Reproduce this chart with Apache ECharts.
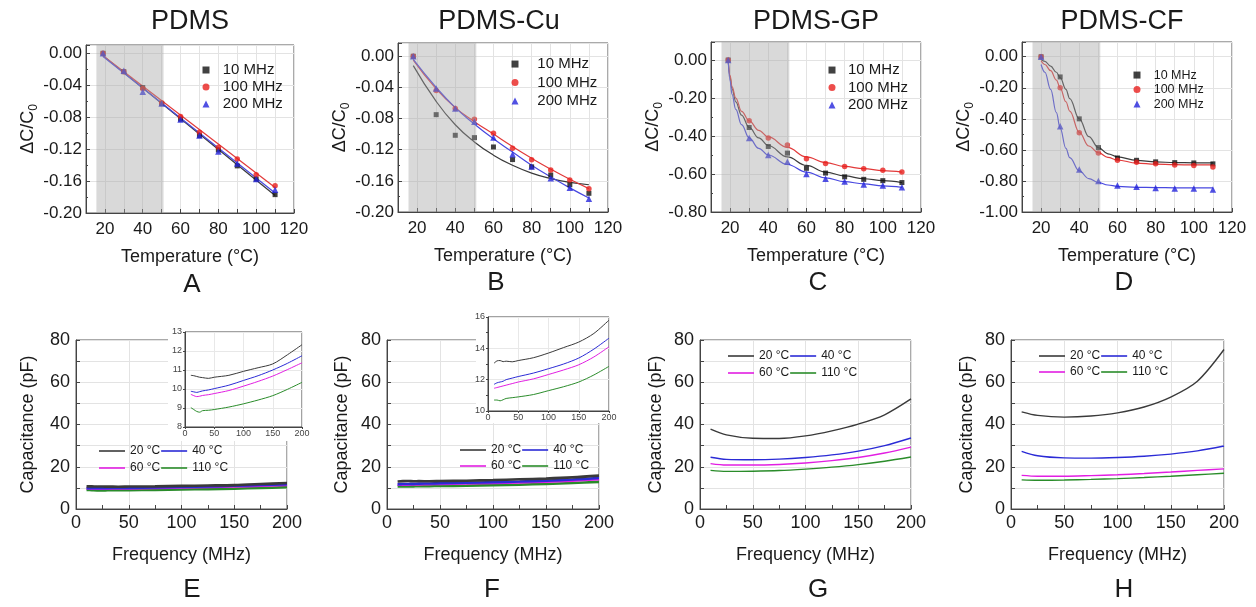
<!DOCTYPE html>
<html><head><meta charset="utf-8">
<script src="https://cdn.jsdelivr.net/npm/echarts@6/dist/echarts.min.js"></script>
<style>html,body{margin:0;padding:0;background:#fff}#c{width:1256px;height:607px}</style>
</head><body><div id="c"></div>
<script>
// ================= DATA =================
// Top row: relative capacitance change vs temperature
const tempA = [19,30,40,50,60,70,80,90,100,110];
const pdms10  = [0,-0.023,-0.043,-0.063,-0.0825,-0.103,-0.121,-0.141,-0.1575,-0.177];
const pdms100 = [0,-0.023,-0.044,-0.062,-0.079,-0.099,-0.1175,-0.1325,-0.152,-0.166];
const pdms200 = [0,-0.022,-0.048,-0.063,-0.083,-0.103,-0.123,-0.138,-0.1575,-0.171];
const fitXA   = [19,110];
const fitA10  = [-0.003,-0.178];
const fitA100 = [-0.003,-0.168];
const fitA200 = [-0.004,-0.175];

const tempB = [18,30,40,50,60,70,80,90,100,110];
const cu10  = [0,-0.075,-0.1015,-0.1045,-0.1165,-0.1327,-0.142,-0.1525,-0.165,-0.176];
const cu100 = [0,-0.044,-0.067,-0.081,-0.099,-0.118,-0.133,-0.146,-0.159,-0.170];
const cu200 = [0,-0.0415,-0.067,-0.084,-0.1045,-0.126,-0.1417,-0.1567,-0.169,-0.183];
const fitXB   = [18,30,40,50,60,70,80,90,100,110];
const fitB10  = [-0.012,-0.058,-0.088,-0.110,-0.127,-0.140,-0.150,-0.157,-0.162,-0.165];
const fitB100 = [-0.005,-0.042,-0.066,-0.084,-0.100,-0.116,-0.131,-0.145,-0.158,-0.170];
const fitB200 = [-0.004,-0.040,-0.066,-0.087,-0.106,-0.123,-0.140,-0.155,-0.169,-0.182];

const tempC = [19,30,40,50,60,70,80,90,100,110];
const gp10  = [0,-0.355,-0.455,-0.49,-0.57,-0.595,-0.615,-0.628,-0.635,-0.645];
const gp100 = [0,-0.32,-0.41,-0.447,-0.52,-0.545,-0.56,-0.572,-0.58,-0.59];
const gp200 = [0,-0.41,-0.50,-0.535,-0.60,-0.625,-0.64,-0.655,-0.66,-0.67];
const fitXC   = [19,20,21,23,26,30,35,40,50,60,70,80,90,100,110];
const fitC10  = [0,-0.09,-0.15,-0.22,-0.29,-0.355,-0.41,-0.45,-0.51,-0.555,-0.59,-0.61,-0.625,-0.635,-0.645];
const fitC100 = [0,-0.08,-0.14,-0.20,-0.27,-0.32,-0.37,-0.405,-0.46,-0.51,-0.54,-0.56,-0.572,-0.582,-0.59];
const fitC200 = [0,-0.11,-0.18,-0.26,-0.34,-0.41,-0.465,-0.50,-0.55,-0.59,-0.62,-0.64,-0.652,-0.662,-0.67];

const tempD = [20,30,40,50,60,70,80,90,100,110];
const cf10  = [0,-0.13,-0.40,-0.585,-0.652,-0.667,-0.677,-0.682,-0.684,-0.69];
const cf100 = [0,-0.20,-0.49,-0.62,-0.667,-0.68,-0.69,-0.697,-0.70,-0.71];
const cf200 = [0,-0.447,-0.727,-0.80,-0.83,-0.838,-0.845,-0.848,-0.848,-0.855];
const fitXD   = [20,22,25,28,30,33,35,40,45,50,55,60,70,80,90,100,110];
const fitD10  = [-0.018,-0.03,-0.06,-0.10,-0.135,-0.21,-0.27,-0.40,-0.515,-0.585,-0.625,-0.645,-0.668,-0.677,-0.682,-0.683,-0.684];
const fitD100 = [-0.026,-0.05,-0.09,-0.15,-0.20,-0.29,-0.35,-0.487,-0.575,-0.618,-0.648,-0.665,-0.685,-0.692,-0.695,-0.697,-0.697];
const fitD200 = [-0.05,-0.10,-0.21,-0.36,-0.46,-0.59,-0.65,-0.735,-0.785,-0.81,-0.826,-0.835,-0.841,-0.843,-0.844,-0.845,-0.845];

const shadeRange = [15.5, 51];
const mhzNames = ['10 MHz','100 MHz','200 MHz'];

// Bottom row: capacitance vs frequency
const freqEF = [10,15,20,25,30,40,50,75,100,125,150,175,200];
const c20E  = [10.72,10.70,10.66,10.62,10.60,10.56,10.62,10.72,10.93,11.12,11.32,11.80,12.33];
const c40E  = [9.88,9.85,9.82,9.86,9.90,9.95,10.02,10.20,10.45,10.70,11.00,11.35,11.75];
const c60E  = [9.72,9.65,9.60,9.62,9.66,9.70,9.76,9.92,10.15,10.40,10.68,11.02,11.38];
const c110E = [9.02,8.92,8.82,8.78,8.86,8.88,8.92,9.05,9.22,9.42,9.65,9.98,10.35];

const c20F  = [13.05,13.20,13.22,13.15,13.18,13.14,13.22,13.40,13.70,14.05,14.40,14.95,15.80];
const c40F  = [11.70,11.80,11.85,11.90,12.00,12.10,12.20,12.42,12.70,13.00,13.38,13.95,14.65];
const c60F  = [11.45,11.50,11.55,11.60,11.65,11.75,11.85,12.05,12.33,12.62,12.95,13.45,14.10];
const c110F = [10.70,10.70,10.65,10.72,10.80,10.85,10.90,11.05,11.30,11.55,11.85,12.30,12.85];

const freqGH = [10,25,50,75,100,125,150,175,200];
const c20G  = [37.8,35.1,33.5,33.4,34.6,37.0,40.2,44.6,52.1];
const c40G  = [24.5,23.5,23.3,23.6,24.4,25.6,27.4,30.0,33.6];
const c60G  = [21.5,20.8,20.8,21.1,21.8,22.9,24.4,26.5,29.3];
const c110G = [18.3,17.8,17.9,18.2,18.9,19.8,21.0,22.6,24.6];

const c20H  = [46.0,44.3,43.5,44.0,45.5,48.3,53.0,60.5,75.5];
const c40H  = [27.3,25.2,24.2,24.1,24.4,25.0,26.0,27.5,29.8];
const c60H  = [15.9,15.5,15.5,15.8,16.2,16.8,17.5,18.3,19.0];
const c110H = [13.8,13.6,13.7,14.0,14.4,14.9,15.5,16.2,16.9];

const tempNames = ['20 °C','40 °C','60 °C','110 °C'];

// ================= STYLE / LAYOUT =================
const F = "'Liberation Sans', Arial, Helvetica, sans-serif";
const TXT = '#1a1a1a';
const AX = '#444';
const GRIDC = '#e3e3e3';
const ptColors = ['#111111','#e8211e','#2424dc'];
const fitColors = ['#3a3a3a','#e23a3a','#4848e0'];
const ptSymbols = ['rect','circle','triangle'];
const ptSizes = [5,5.5,6.5];
const tColors = ['#3a3a3a','#2b2bd6','#e21ee2','#2a8c2a'];

const topPanels = [
  {title:'PDMS', letter:'A', temp:tempA, pts:[pdms10,pdms100,pdms200], fitX:fitXA, fits:[fitA10,fitA100,fitA200],
   ymin:-0.2, ymax:0.0104, yint:0.04, grid:{left:86,top:45,width:208,height:168}, yGap:46,
   lg:{cx:206, top:61.5, font:15, lh:17, gap:16.7}, tx:190, lx:192, ly:285, smooth:false, mono:null},
  {title:'PDMS-Cu', letter:'B', temp:tempB, pts:[cu10,cu100,cu200], fitX:fitXB, fits:[fitB10,fitB100,fitB200],
   ymin:-0.2, ymax:0.017, yint:0.04, grid:{left:398,top:43,width:210,height:169}, yGap:44,
   lg:{cx:515, top:54.8, font:15, lh:18.5, gap:22.3}, tx:499, lx:496, ly:283, smooth:0.5, mono:null},
  {title:'PDMS-GP', letter:'C', temp:tempC, pts:[gp10,gp100,gp200], fitX:fitXC, fits:[fitC10,fitC100,fitC200],
   ymin:-0.8, ymax:0.095, yint:0.2, grid:{left:711,top:42,width:210,height:170}, yGap:44,
   lg:{cx:832, top:61.3, font:15, lh:17.5, gap:16}, tx:816, lx:818, ly:283, smooth:0.4, mono:'x'},
  {title:'PDMS-CF', letter:'D', temp:tempD, pts:[cf10,cf100,cf200], fitX:fitXD, fits:[fitD10,fitD100,fitD200],
   ymin:-1.0, ymax:0.095, yint:0.2, grid:{left:1022,top:42,width:210,height:170}, yGap:40,
   lg:{cx:1137, top:67.8, font:12.5, lh:14.5, gap:16.7}, tx:1122, lx:1124, ly:283, smooth:0.4, mono:'x'}
];

const botPanels = [
  {letter:'E', x:freqEF, ys:[c20E,c40E,c60E,c110E], lw:2.6, grid:{left:76,top:340,width:211,height:169}, yGap:39,
   lg:{left:99, top1:444, top2:461}, lx:192,
   inset:{grid:{left:185,top:332,width:117,height:95}, ymin:8, ymax:13, yint:1, minor:false, cover:{x:168,y:326,w:144,h:115}}},
  {letter:'F', x:freqEF, ys:[c20F,c40F,c60F,c110F], lw:2.6, grid:{left:387,top:340,width:212,height:169}, yGap:36,
   lg:{left:460, top1:443, top2:459}, lx:492,
   inset:{grid:{left:488,top:317,width:121,height:94}, ymin:10, ymax:16, yint:2, minor:true, cover:{x:476,y:311,w:142,h:112}}},
  {letter:'G', x:freqGH, ys:[c20G,c40G,c60G,c110G], lw:1.4, grid:{left:700,top:340,width:211,height:169}, yGap:35,
   lg:{left:728, top1:349, top2:366}, lx:818},
  {letter:'H', x:freqGH, ys:[c20H,c40H,c60H,c110H], lw:1.4, grid:{left:1011,top:340,width:213,height:169}, yGap:35,
   lg:{left:1039, top1:349, top2:365}, lx:1124}
];

// ================= BUILD =================
const zip = (xs, ys) => xs.map((x, i) => [x, ys[i]]);
const fmt2 = v => (Math.abs(v) < 1e-9 ? '0.00' : v.toFixed(2));

const grid = [], xAxis = [], yAxis = [], series = [], legend = [], graphic = [];

function baseAxis(gi, extra) {
  return Object.assign({
    type:'value', gridIndex:gi,
    axisLine:{show:true, onZero:false, lineStyle:{color:AX, width:1}},
    axisTick:{show:true, inside:true, length:4, lineStyle:{color:AX}},
    splitLine:{show:true, lineStyle:{color:GRIDC, width:1}},
    nameTextStyle:{fontFamily:F, fontSize:18, color:TXT}
  }, extra);
}

topPanels.forEach((p, k) => {
  const gi = grid.length;
  grid.push(Object.assign({show:true, borderColor:'#555', borderWidth:1, backgroundColor:'#fff'}, p.grid));
  xAxis.push(baseAxis(gi, {
    min:10, max:120, interval:10,
    axisLabel:{formatter: v => (v % 20 === 0 ? String(v) : ''), fontFamily:F, fontSize:17, color:TXT, margin:8},
    name:'Temperature (°C)', nameLocation:'middle', nameGap:35
  }));
  yAxis.push(baseAxis(gi, {
    min:p.ymin, max:p.ymax, interval:p.yint,
    axisLabel:{formatter: fmt2, fontFamily:F, fontSize:17, color:TXT, margin:4, showMaxLabel:false},
    minorTick:{show:true, splitNumber:2, length:2, lineStyle:{color:AX}},
    name:'{a|ΔC/C}{b|0}', nameLocation:'middle', nameGap:p.yGap,
    nameTextStyle:{fontFamily:F, color:TXT, rich:{
      a:{fontFamily:F, fontSize:18, color:TXT},
      b:{fontFamily:F, fontSize:12, color:TXT, verticalAlign:'bottom', padding:[11,0,0,0]}
    }}
  }));
  // fitted curves
  p.fits.forEach((f, j) => {
    const s = {type:'line', name:'fit-' + k + '-' + j, xAxisIndex:gi, yAxisIndex:gi,
      data:zip(p.fitX, f), showSymbol:false, symbol:'none', smooth:p.smooth,
      lineStyle:{color:fitColors[j], width:1.2}, silent:true, z:2};
    if (p.mono) s.smoothMonotone = p.mono;
    series.push(s);
  });
  // measured points
  p.pts.forEach((d, j) => {
    series.push({type:'scatter', name:mhzNames[j], xAxisIndex:gi, yAxisIndex:gi,
      data:zip(p.temp, d), symbol:ptSymbols[j], symbolSize:ptSizes[j],
      itemStyle:{color:ptColors[j]}, silent:true, z:3});
  });
  // grey shaded temperature window (drawn over the marks, translucent)
  series.push({type:'line', name:'shade-' + k, xAxisIndex:gi, yAxisIndex:gi, data:[], z:6, silent:true,
    markArea:{silent:true, z:6, itemStyle:{color:'rgba(165,165,165,0.42)'},
      data:[[{xAxis:shadeRange[0]}, {xAxis:shadeRange[1]}]]}});
  legend.push({
    data: mhzNames.map((n, j) => ({name:n, icon:ptSymbols[j]})),
    orient:'vertical', left:p.lg.cx - 3.5, top:p.lg.top, itemWidth:7, itemHeight:7, itemGap:0, padding:0,
    selectedMode:false,
    textStyle:{fontFamily:F, fontSize:p.lg.font, color:TXT, lineHeight:p.lg.lh, padding:[0,0,0,p.lg.gap - 8.5]}
  });
  graphic.push({type:'text', x:p.tx, y:22, z:20,
    style:{text:p.title, font:'27px ' + F, fill:TXT, align:'center', verticalAlign:'middle', textAlign:'center', textVerticalAlign:'middle'}});
  graphic.push({type:'text', x:p.lx, y:p.ly, z:20,
    style:{text:p.letter, font:'26px ' + F, fill:TXT, align:'center', verticalAlign:'middle', textAlign:'center', textVerticalAlign:'middle'}});
});

botPanels.forEach((p, k) => {
  const gi = grid.length;
  grid.push(Object.assign({show:true, borderColor:'#555', borderWidth:1, backgroundColor:'#fff'}, p.grid));
  xAxis.push(baseAxis(gi, {
    min:0, max:200, interval:50,
    minorTick:{show:true, splitNumber:2, length:4, lineStyle:{color:AX}},
    axisLabel:{fontFamily:F, fontSize:18, color:TXT, margin:5},
    name:'Frequency (MHz)', nameLocation:'middle', nameGap:37
  }));
  yAxis.push(baseAxis(gi, {
    min:0, max:80, interval:10,
    axisLabel:{formatter: v => (v % 20 === 0 ? String(v) : ''), fontFamily:F, fontSize:18, color:TXT, margin:6},
    name:'Capacitance (pF)', nameLocation:'middle', nameGap:p.yGap
  }));
  p.ys.forEach((d, j) => {
    series.push({type:'line', name:tempNames[j], xAxisIndex:gi, yAxisIndex:gi, data:zip(p.x, d),
      showSymbol:false, symbol:'none', smooth:0.3, lineStyle:{color:tColors[j], width:p.lw},
      itemStyle:{color:tColors[j]}, silent:true, z:2 + (3 - j) * 0.01});
  });
  const lgCommon = {orient:'horizontal', left:p.lg.left, itemWidth:26, itemHeight:1.6, itemGap:1, padding:0,
    selectedMode:false, z:8, textStyle:{fontFamily:F, fontSize:12, color:TXT, lineHeight:14}};
  legend.push(Object.assign({data:[tempNames[0], tempNames[1]].map(n => ({name:n, icon:'rect'})), top:p.lg.top1}, lgCommon));
  legend.push(Object.assign({data:[tempNames[2], tempNames[3]].map(n => ({name:n, icon:'rect'})), top:p.lg.top2}, lgCommon));
  graphic.push({type:'text', x:p.lx, y:590, z:20,
    style:{text:p.letter, font:'26px ' + F, fill:TXT, align:'center', verticalAlign:'middle', textAlign:'center', textVerticalAlign:'middle'}});

  if (p.inset) {
    const s = p.inset;
    graphic.push({type:'rect', z:9, silent:true, shape:{x:s.cover.x, y:s.cover.y, width:s.cover.w, height:s.cover.h},
      style:{fill:'#ffffff'}});
    const ii = grid.length;
    grid.push(Object.assign({show:true, borderColor:'#444', borderWidth:1, backgroundColor:'#fff', z:10}, s.grid));
    xAxis.push(baseAxis(ii, {
      z:11, min:0, max:200, interval:50,
      axisTick:{show:true, inside:false, length:2, lineStyle:{color:AX}},
      axisLabel:{fontFamily:F, fontSize:9, color:'#444', margin:2},
      splitLine:{show:true, lineStyle:{color:'#e8e8e8'}}
    }));
    yAxis.push(baseAxis(ii, {
      z:11, min:s.ymin, max:s.ymax, interval:s.yint,
      axisTick:{show:true, inside:false, length:2, lineStyle:{color:AX}},
      minorTick:{show:s.minor, splitNumber:2, length:2, lineStyle:{color:AX}},
      axisLabel:{fontFamily:F, fontSize:9, color:'#444', margin:3},
      splitLine:{show:true, lineStyle:{color:'#e8e8e8'}}
    }));
    p.ys.forEach((d, j) => {
      series.push({type:'line', name:tempNames[j], xAxisIndex:ii, yAxisIndex:ii, data:zip(p.x, d),
        showSymbol:false, symbol:'none', smooth:0.3, lineStyle:{color:tColors[j], width:1},
        itemStyle:{color:tColors[j]}, silent:true, z:12});
    });
  }
});

const chart = echarts.init(document.getElementById('c'), null, {renderer:'canvas'});
chart.setOption({
  animation:false, backgroundColor:'#ffffff',
  textStyle:{fontFamily:F},
  grid, xAxis, yAxis, series, legend, graphic
});
</script></body></html>
